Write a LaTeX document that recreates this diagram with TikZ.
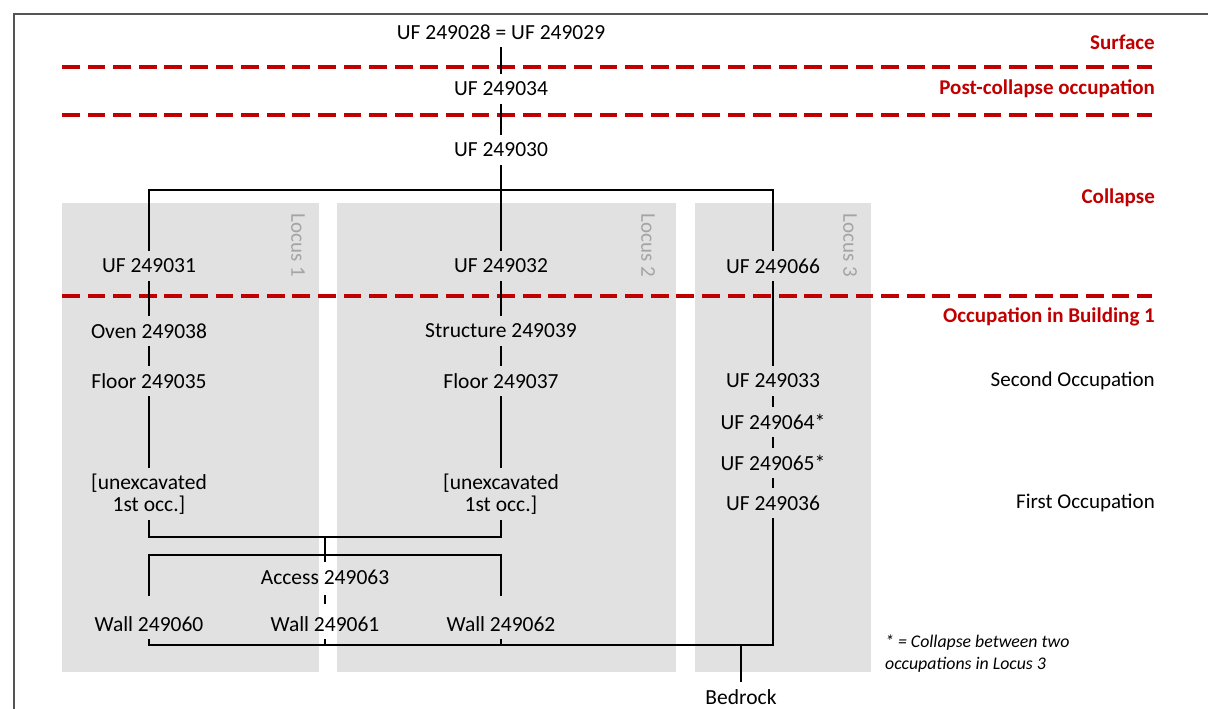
\documentclass[tikz,border=0pt]{standalone}
\usepackage{fontspec}
\setmainfont{Carlito}
\usetikzlibrary{positioning,calc}
\definecolor{phasered}{HTML}{C00000}
\definecolor{locusfill}{HTML}{E1E1E1}
\definecolor{locustext}{HTML}{A4A4A4}
\definecolor{framegray}{HTML}{555555}

\begin{document}
\begin{tikzpicture}[
    x=1pt, y=-1pt,
    unit/.style={font=\fontsize{21.5}{22}\selectfont, inner sep=0pt, minimum height=30pt},
    unexc/.style={unit, align=center, minimum height=52pt},
    phase/.style={font=\bfseries\fontsize{21}{22}\selectfont, text=phasered, anchor=east, inner sep=0pt},
    occ/.style={font=\fontsize{21}{22}\selectfont, anchor=east, inner sep=0pt},
    note/.style={font=\itshape\fontsize{17.8}{22}\selectfont, anchor=west, align=left, inner sep=0pt},
    locus/.style={fill=locusfill},
    locuslabel/.style={font=\fontsize{21}{22}\selectfont, text=locustext, rotate=-90, inner sep=0pt},
    boundary/.style={draw=phasered, line width=4.5pt, dash pattern=on 17.8pt off 7.8pt},
    link/.style={draw, line width=1.4pt}
]
    \useasboundingbox (0,0) rectangle (1208,709);
    \draw[framegray, line width=1.5pt] (14,709) -- (14,14) -- (1208,14);

    % loci
    \fill[locus] (62,203) rectangle (319,672);
    \fill[locus] (337,203) rectangle (676,672);
    \fill[locus] (695,203) rectangle (871,672);
    \node[locuslabel] (locus1) at (298,245) {Locus 1};
    \node[locuslabel] (locus2) at (648,245) {Locus 2};
    \node[locuslabel] (locus3) at (850,245) {Locus 3};

    % phase boundaries
    \foreach \y in {67,115,296}
        \draw[boundary] (62,\y) -- (1152,\y);
    \node[phase] (surface) at (1155,42) {Surface};
    \node[phase] (postcollapse) at (1155,89) {Post-collapse occupation};
    \node[phase] (collapse) at (1155,198) {Collapse};
    \node[phase] (building) at (1155,317) {Occupation in Building 1};
    \node[occ] (second) at (1155,381) {Second Occupation};
    \node[occ] (first) at (1155,503) {First Occupation};

    % units
    \node[unit] (uf028) at (501,32) {UF 249028 = UF 249029};
    \node[unit] (uf034) at (501,89) {UF 249034};
    \node[unit] (uf030) at (501,150) {UF 249030};
    \node[unit] (uf031) at (149,266) {UF 249031};
    \node[unit] (uf032) at (501,266) {UF 249032};
    \node[unit] (uf066) at (773,266) {UF 249066};
    \node[unit] (oven038) at (149,331) {Oven 249038};
    \node[unit] (struct039) at (501,331) {Structure 249039};
    \node[unit] (floor035) at (149,381) {Floor 249035};
    \node[unit] (floor037) at (501,381) {Floor 249037};
    \node[unit] (uf033) at (773,381) {UF 249033};
    \node[unit] (uf064) at (773,422) {UF 249064*};
    \node[unit] (uf065) at (773,463) {UF 249065*};
    \node[unit] (uf036) at (773,503) {UF 249036};
    \node[unexc] (unexc1) at (149,494) {[unexcavated\\1st occ.]};
    \node[unexc] (unexc2) at (501,494) {[unexcavated\\1st occ.]};
    \node[unit] (access063) at (325,577) {Access 249063};
    \node[unit] (wall060) at (149,624) {Wall 249060};
    \node[unit] (wall061) at (325,624) {Wall 249061};
    \node[unit] (wall062) at (501,624) {Wall 249062};
    \node[unit] (bedrock) at (741,697) {Bedrock};
    \node[note] (footnote) at (885,654) {* = Collapse between two\\occupations in Locus 3};

    \coordinate (split) at (501,190);
    \coordinate (join) at (325,537);
    \coordinate (wallbar) at (325,555);
    \coordinate (basebar) at (741,645);

    % links
    \draw[link] (uf028) -- (uf034);
    \draw[link] (uf034) -- (uf030);
    \draw[link] (uf030) -- (uf032);
    \draw[link] (uf031) |- (split) -| (uf066);
    \draw[link] (uf031) -- (oven038);
    \draw[link] (oven038) -- (floor035);
    \draw[link] (floor035) -- (unexc1);
    \draw[link] (uf032) -- (struct039);
    \draw[link] (struct039) -- (floor037);
    \draw[link] (floor037) -- (unexc2);
    \draw[link] (uf066) -- (uf033);
    \draw[link] (uf033) -- (uf064);
    \draw[link] (uf064) -- (uf065);
    \draw[link] (uf065) -- (uf036);
    \draw[link] (unexc1) |- (join) -| (unexc2);
    \draw[link] (join) -- (access063);
    \draw[link, shorten <=13pt, shorten >=13pt] (wall060) |- (wallbar) -| (wall062);
    \draw[link, shorten <=3pt, shorten >=5pt] (access063) -- (wall061);
    \draw[link] (wall060) |- (basebar) -| (uf036);
    \draw[link] (wall061) -- (wall061 |- basebar);
    \draw[link] (wall062) -- (wall062 |- basebar);
    \draw[link] (basebar) -- (bedrock);
\end{tikzpicture}
\end{document}
